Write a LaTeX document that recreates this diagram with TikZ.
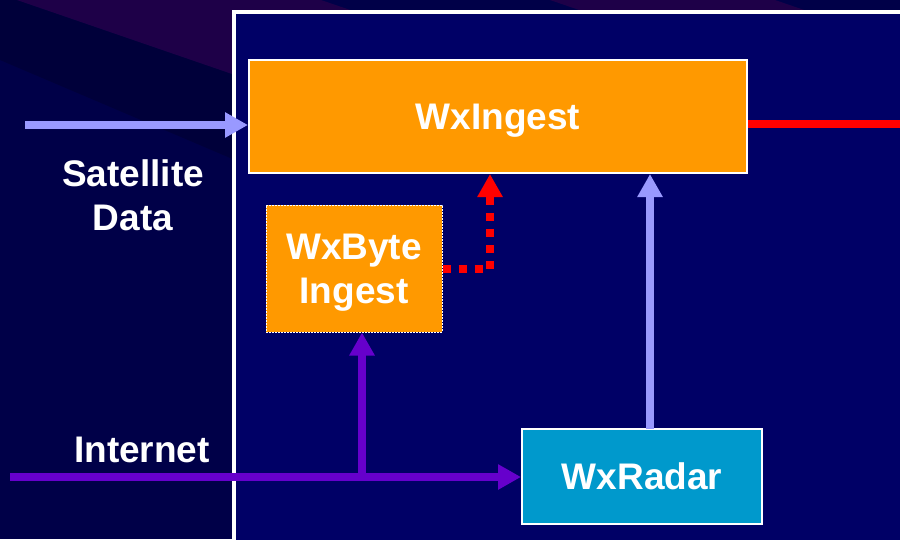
\documentclass[tikz,border=0pt]{standalone}
\usepackage{fontspec}
\setmainfont{Liberation Sans}
\usetikzlibrary{arrows.meta}

\definecolor{bgnavy}{RGB}{0,0,72}
\definecolor{bgdark}{RGB}{0,0,58}
\definecolor{bgpurple}{RGB}{30,0,72}
\definecolor{panelnavy}{RGB}{0,0,102}
\definecolor{wxorange}{RGB}{255,153,0}
\definecolor{wxblue}{RGB}{0,153,204}
\definecolor{satlav}{RGB}{153,153,255}
\definecolor{netpurple}{RGB}{102,0,204}
\definecolor{wxred}{RGB}{255,0,0}

\newcommand{\lblfont}{\fontsize{37}{44}\selectfont\bfseries}

\tikzset{
    wxbox/.style={draw=white, line width=2pt, text=white, font=\lblfont,
        align=center, inner sep=0pt, text depth=0pt},
    wxlbl/.style={text=white, font=\lblfont, align=center, inner sep=0pt},
    flow/.style={line width=8.5pt, -{Triangle[length=23pt, width=24pt]}},
}

\begin{document}
\begin{tikzpicture}[x=1pt, y=-1pt]
    \useasboundingbox (0,0) rectangle (900,539);
    \clip (0,0) rectangle (900,539);

    % slide background
    \fill[bgnavy] (0,0) rectangle (900,539);
    \fill[bgdark] (0,0) -- (17,0) -- (235,75) -- (235,160) -- (0,60) -- cycle;
    \fill[bgpurple] (17,0) -- (321,0) -- (356,12) -- (235,12) -- (235,75) -- cycle;
    \fill[bgpurple] (550,0) -- (775,0) -- (810,12) -- (585,12) -- cycle;

    % panel
    \draw[white, line width=4pt, fill=panelnavy] (234,12) rectangle (920,560);

    % boxes
    \node[wxbox, fill=wxorange, minimum width=498pt, minimum height=113pt]
        (ingest) at (498,116.5) {WxIngest};
    \node[wxbox, fill=wxorange, draw=white, densely dotted, line width=1pt,
        minimum width=176pt, minimum height=127pt]
        (byte) at (354,268.5) {WxByte\\Ingest};
    \node[wxbox, fill=wxblue, minimum width=240pt, minimum height=95pt]
        (radar) at (642,476.5) {WxRadar};

    % labels
    \node[wxlbl] (sat) at (133,195.5) {Satellite\\Data};
    \node[wxlbl, anchor=base] (net) at (142,462) {Internet};

    % connector ends
    \coordinate (satstart) at (25,125);
    \coordinate (redend) at (900,124);
    \coordinate (dotturn) at (490,269);
    \coordinate (radarup) at (650,429);
    \coordinate (netstart) at (10,477);
    \coordinate (netfork) at (362,477);

    % connectors
    \draw[flow, satlav] (satstart) -- (satstart -| ingest.west);
    \draw[wxred, line width=8pt] (ingest.east |- redend) -- (redend);
    \draw[flow, satlav] (radarup) -- (radarup |- ingest.south);
    \draw[flow, wxred, line width=8pt, dash pattern=on 8pt off 8pt]
        (byte.east |- dotturn) -- (dotturn) -- (dotturn |- ingest.south);
    \draw[flow, netpurple, line width=8pt] (netstart) -- (netstart -| radar.west);
    \draw[flow, netpurple, line width=8pt] (netfork) -- (netfork |- byte.south);
\end{tikzpicture}
\end{document}
